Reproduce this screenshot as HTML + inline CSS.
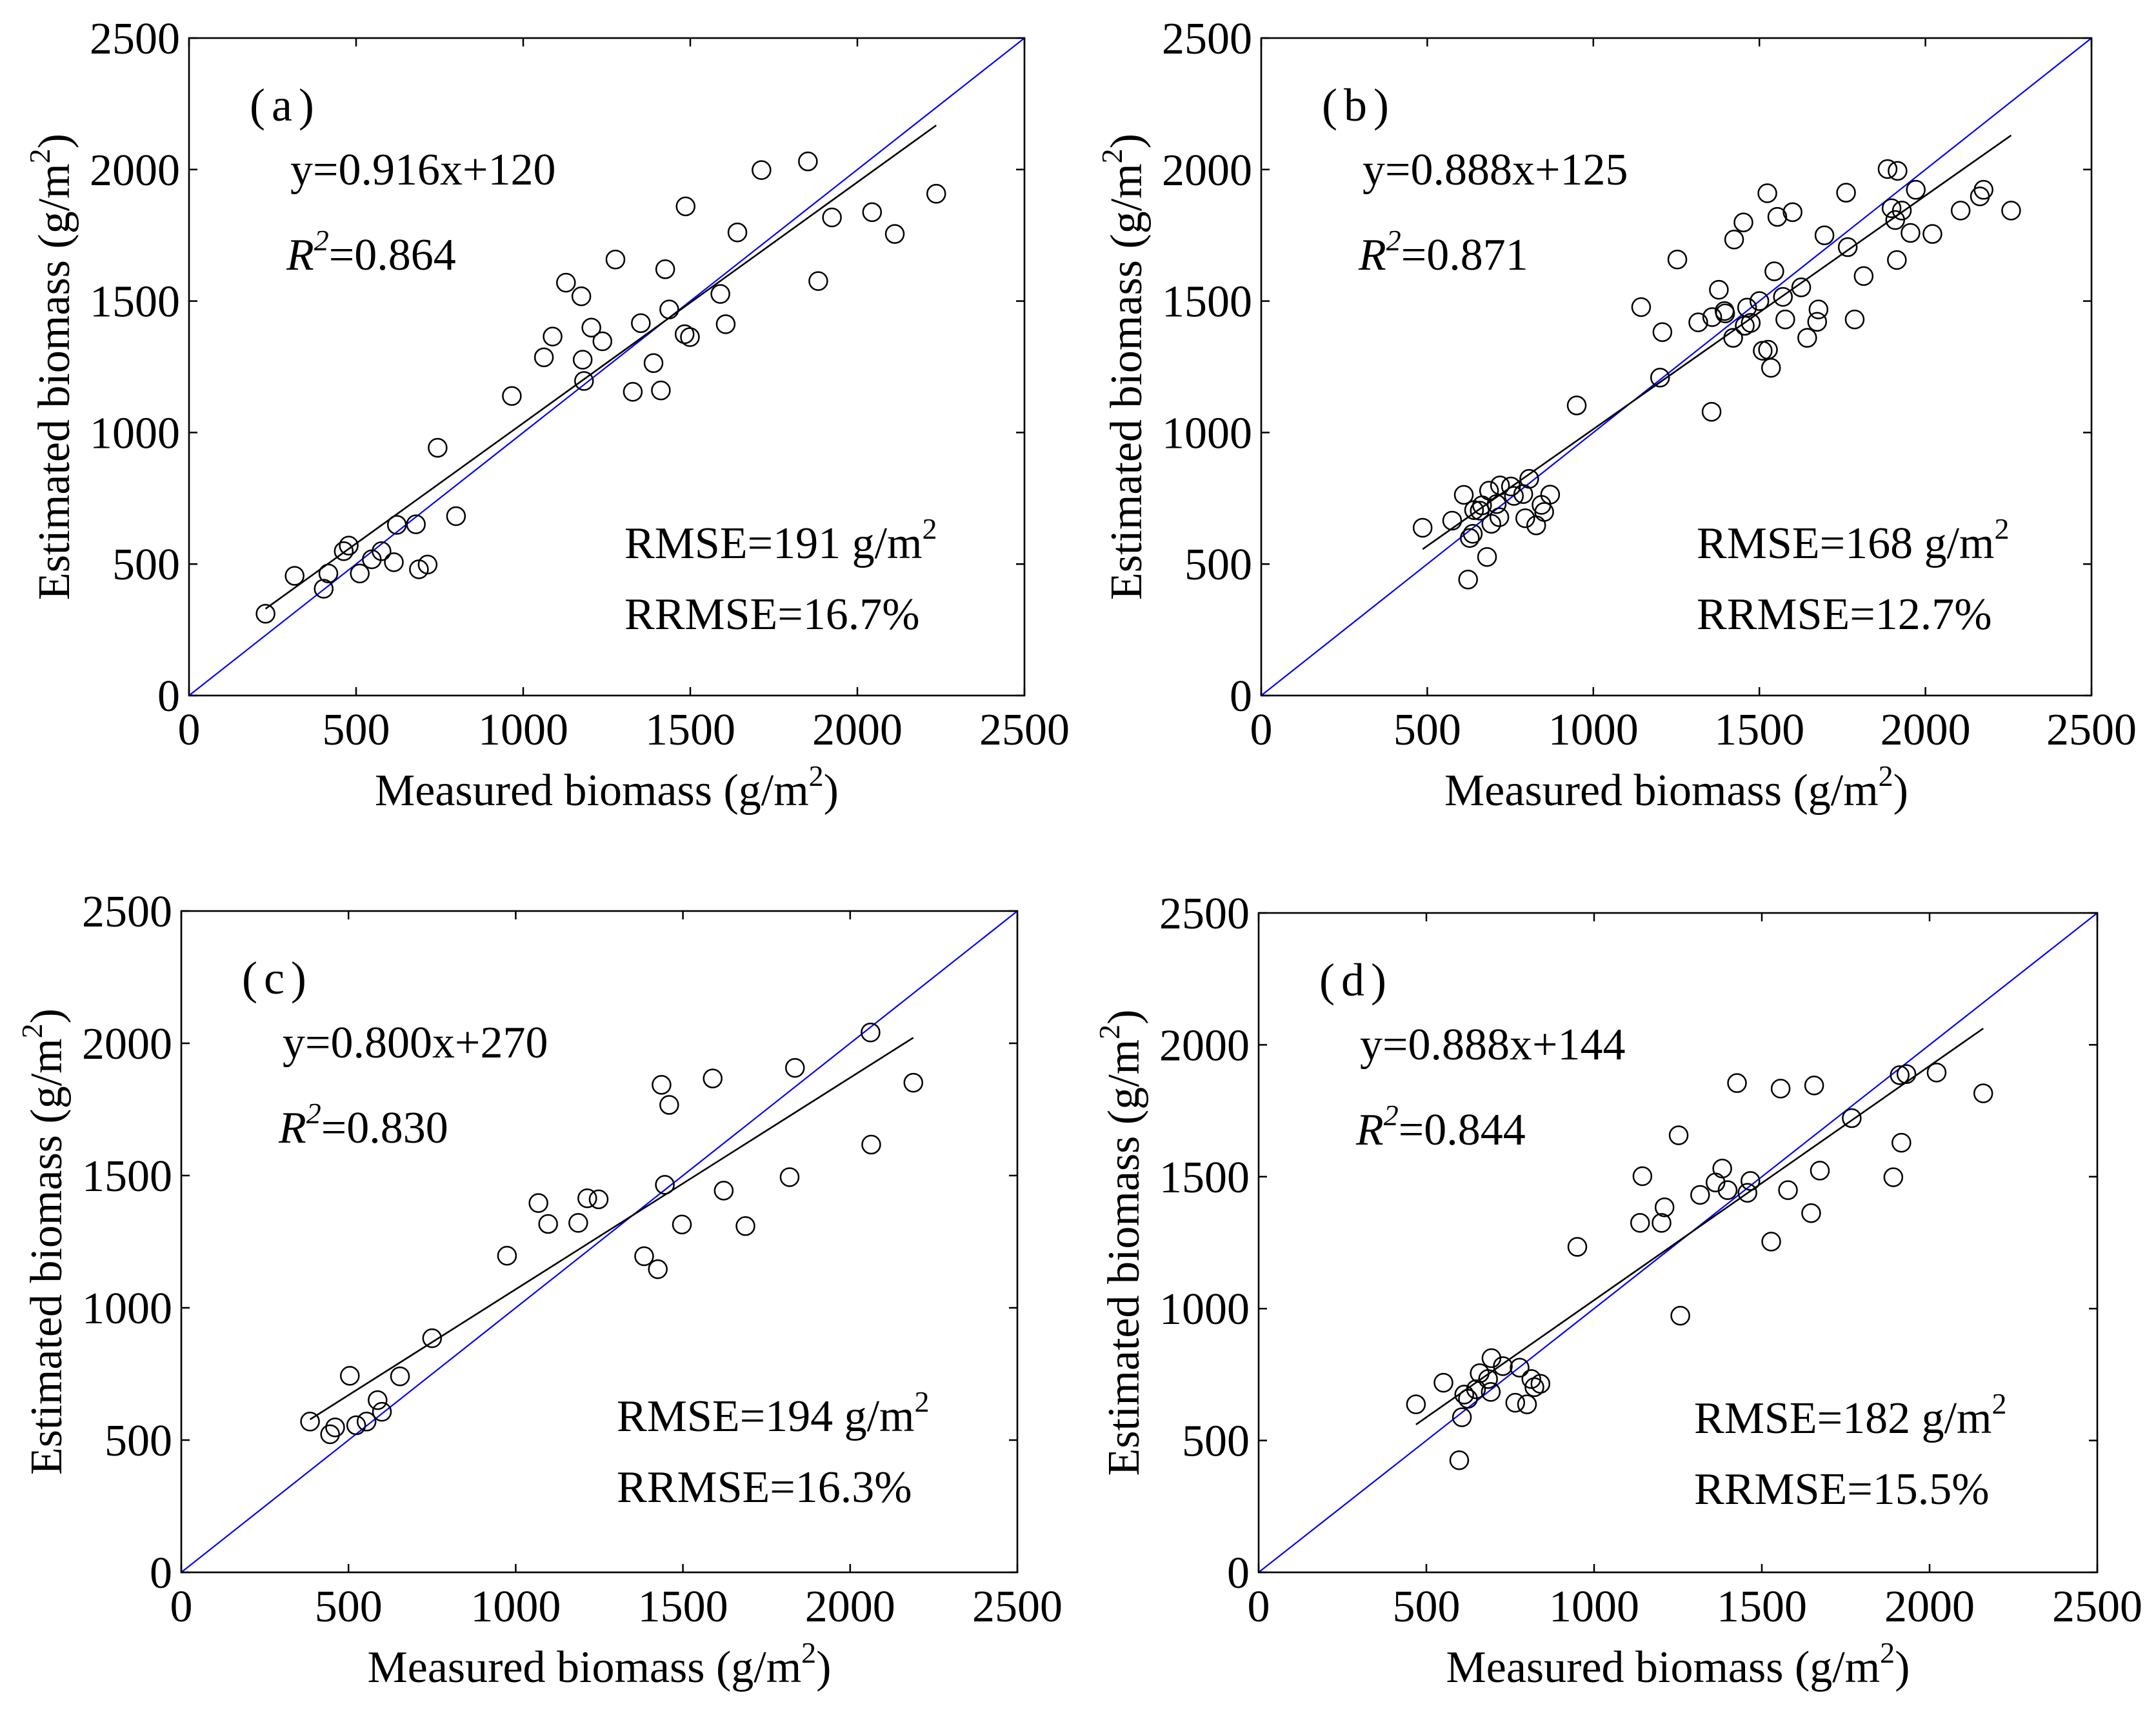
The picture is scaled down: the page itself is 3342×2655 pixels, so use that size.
<!DOCTYPE html>
<html><head><meta charset="utf-8">
<style>
html,body{margin:0;padding:0;background:#fff;}
svg{display:block;}
svg text, svg tspan{font-family:"Liberation Serif","Times New Roman",serif !important;fill:#000;}
</style></head>
<body>
<svg id="fig" xmlns="http://www.w3.org/2000/svg" width="3342" height="2655" viewBox="0 0 3342 2655" font-family="Liberation Serif, serif">
<rect x="0" y="0" width="3342" height="2655" fill="#fff"/>
</svg>
<script>
// ---- data ----
const ticks = [0, 500, 1000, 1500, 2000, 2500];
const tickLabels = ["0", "500", "1000", "1500", "2000", "2500"];
const panelLabels = ["(a)", "(b)", "(c)", "(d)"];
const equations = ["y=0.916x+120", "y=0.888x+125", "y=0.800x+270", "y=0.888x+144"];
const r2Values = ["0.864", "0.871", "0.830", "0.844"];
const rmseValues = ["191", "168", "194", "182"];
const rrmseValues = ["16.7%", "12.7%", "16.3%", "15.5%"];
const fitSlope = [0.916, 0.888, 0.800, 0.888];
const fitIntercept = [120, 125, 270, 144];
const fitXMin = [229, 486, 385, 469];
const fitXMax = [2236, 2258, 2189, 2160];

const measuredA = [229,316,403,417,463,478,511,547,576,613,622,679,688,714,744,799,966,1062,1088,1128,1174,1178,1182,1204,1237,1276,1328,1352,1390,1412,1425,1437,1483,1499,1486,1590,1606,1641,1713,1852,1883,1924,2044,2112,2236];
const estimatedA = [311,455,406,464,549,570,464,518,549,507,649,651,480,498,942,682,1139,1286,1365,1570,1518,1277,1196,1399,1347,1658,1155,1416,1264,1160,1621,1468,1374,1363,1860,1527,1412,1761,1998,2031,1576,1818,1838,1755,1908];

const measuredB = [486,575,610,623,628,637,641,658,665,680,686,693,709,717,719,752,761,789,795,807,828,844,852,870,950,1144,1201,1208,1253,1316,1356,1358,1378,1395,1397,1421,1424,1452,1456,1463,1474,1500,1510,1524,1526,1535,1545,1554,1571,1578,1600,1626,1644,1674,1678,1696,1761,1766,1787,1814,1886,1898,1914,1909,1916,1929,1955,1971,2021,2106,2164,2175,2258];
const estimatedB = [638,665,763,441,599,615,705,703,723,527,779,653,728,678,799,795,759,766,674,824,647,725,698,764,1103,1477,1209,1382,1658,1419,1079,1439,1543,1462,1453,1360,1734,1799,1406,1475,1417,1500,1311,1910,1315,1246,1613,1820,1516,1430,1838,1552,1360,1421,1468,1750,1912,1705,1430,1595,2002,1853,1656,1808,1995,1844,1759,1923,1755,1844,1898,1923,1844];

const measuredC = [385,445,460,504,523,554,587,600,654,750,974,1068,1097,1187,1214,1248,1384,1425,1436,1446,1459,1497,1589,1622,1687,1819,1835,2061,2063,2189];
const estimatedC = [570,522,548,743,556,570,651,607,741,885,1197,1396,1317,1321,1414,1410,1195,1146,1843,1465,1767,1315,1867,1443,1309,1494,1907,2041,1617,1851];

const measuredD = [469,551,598,606,613,624,648,659,684,692,694,728,765,778,800,813,822,840,950,1137,1144,1201,1210,1252,1257,1316,1362,1382,1398,1426,1457,1466,1528,1556,1578,1647,1656,1673,1768,1892,1911,1916,1931,2021,2160];
const estimatedD = [637,719,425,588,674,658,694,755,733,684,812,782,643,776,637,733,702,715,1234,1325,1502,1325,1384,1657,973,1431,1478,1531,1449,1855,1439,1484,1254,1834,1449,1362,1846,1523,1722,1498,1885,1629,1889,1895,1816];

// ---- layout ----
const boxes = [
  {l:293, r:1588, t:59, b:1078},
  {l:1955, r:3242, t:59, b:1078},
  {l:281, r:1577, t:1412, b:2437},
  {l:1951, r:3251, t:1415, b:2437}
];
const allX = [measuredA, measuredB, measuredC, measuredD];
const allY = [estimatedA, estimatedB, estimatedC, estimatedD];
const letters = ["a","b","c","d"];
const NS = "http://www.w3.org/2000/svg";
const svg = document.getElementById("fig");
const FF = "Liberation Serif, serif";

function mk(tag, attrs, parent) {
  const e = document.createElementNS(NS, tag);
  for (const k in attrs) e.setAttribute(k, attrs[k]);
  if (tag === "text") e.setAttribute("font-family", FF);
  parent.appendChild(e);
  return e;
}

boxes.forEach((bx, i) => {
  const L = letters[i];
  const sx = v => bx.l + v / 2500 * (bx.r - bx.l);
  const sy = v => bx.b - v / 2500 * (bx.b - bx.t);
  const g = mk("g", {}, svg);
  
  

  ticks.forEach((t, k) => {
    const x = sx(t), y = sy(t);
    const tk = mk("path", {d:`M${x},${bx.b}v-13M${x},${bx.t}v13M${bx.l},${y}h13M${bx.r},${y}h-13`, stroke:"#000", "stroke-width":2.5, fill:"none"}, g);
    
    
    const xl = mk("text", {x:x, y:bx.b + 76, "font-size":70, "text-anchor":"middle"}, g);
    xl.textContent = tickLabels[k];
    
    
    const yl = mk("text", {x:bx.l - 14, y:y + 24, "font-size":70, "text-anchor":"end"}, g);
    yl.textContent = tickLabels[k];
    
    
  });

  const d11 = mk("line", {x1:sx(0), y1:sy(0), x2:sx(2500), y2:sy(2500), stroke:"#0000ff", "stroke-width":2.2}, g);
  
  

  const y1 = fitSlope[i] * fitXMin[i] + fitIntercept[i];
  const y2 = fitSlope[i] * fitXMax[i] + fitIntercept[i];
  const fl = mk("line", {x1:sx(fitXMin[i]), y1:sy(y1), x2:sx(fitXMax[i]), y2:sy(y2), stroke:"#000", "stroke-width":2.6}, g);
  
  

  allX[i].forEach((xv, j) => {
    const c = mk("circle", {cx:sx(xv), cy:sy(allY[i][j]), r:14, fill:"none", stroke:"#000", "stroke-width":2.5}, g);
    
    
  });

  const fr = mk("rect", {x:bx.l, y:bx.t, width:bx.r - bx.l, height:bx.b - bx.t, fill:"none", stroke:"#000", "stroke-width":2.6}, g);
  
  

  const pl = mk("text", {x:bx.l + 94, y:bx.t + 128, "font-size":72, "letter-spacing":10}, g);
  pl.textContent = panelLabels[i];
  
  

  const eq = mk("text", {x:bx.l + 157, y:bx.t + 227, "font-size":70}, g);
  eq.textContent = equations[i];
  
  

  const r2 = mk("text", {x:bx.l + 151, y:bx.t + 359, "font-size":70}, g);
  r2.innerHTML = '<tspan font-style="italic">R</tspan><tspan font-style="italic" font-size="46" dy="-30">2</tspan><tspan dy="30">=' + r2Values[i] + '</tspan>';
  
  

  const rm = mk("text", {x:bx.l + 675, y:bx.t + 806, "font-size":70}, g);
  rm.innerHTML = 'RMSE=' + rmseValues[i] + ' g/m<tspan font-size="46" dy="-30">2</tspan>';
  
  

  const rr = mk("text", {x:bx.l + 675, y:bx.t + 916, "font-size":70}, g);
  rr.textContent = 'RRMSE=' + rrmseValues[i];
  
  

  const xt = mk("text", {x:(bx.l + bx.r) / 2, y:bx.b + 170, "font-size":70, "text-anchor":"middle"}, g);
  xt.innerHTML = 'Measured biomass (g/m<tspan font-size="46" dy="-30">2</tspan><tspan dy="30">)</tspan>';
  
  

  const cy = (bx.t + bx.b) / 2;
  const yt = mk("text", {x:0, y:0, "font-size":70, "text-anchor":"middle", transform:`translate(${bx.l - 186},${cy}) rotate(-90)`}, g);
  yt.innerHTML = 'Estimated biomass (g/m<tspan font-size="46" dy="-30">2</tspan><tspan dy="30">)</tspan>';
  
  
});
</script>
</body></html>
